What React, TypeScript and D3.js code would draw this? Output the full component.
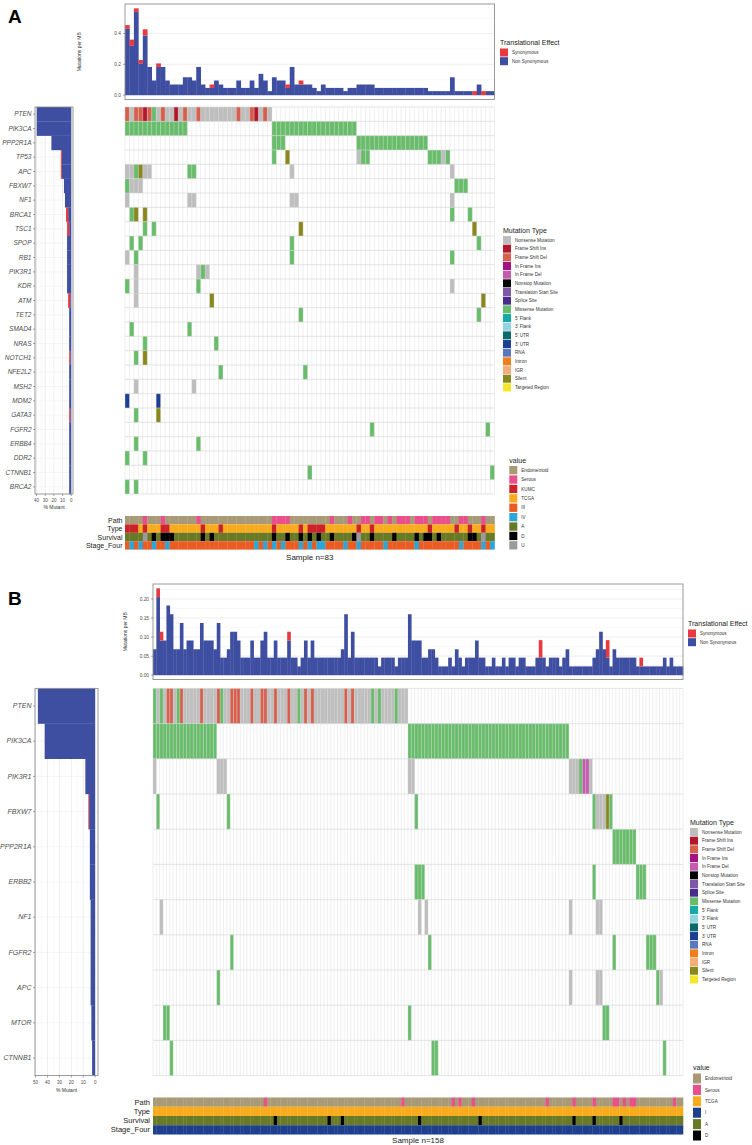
import React from "react";
import * as d3 from "d3";

const FONT = "'Liberation Sans', Arial, Helvetica, sans-serif";

// ---------- shared legends ----------
const mutationTypeLabels = ["Nonsense Mutation", "Frame Shift Ins", "Frame Shift Del", "In Frame Ins", "In Frame Del", "Nonstop Mutation", "Translation Start Site", "Splice Site", "Missense Mutation", "5' Flank", "3' Flank", "5' UTR", "3' UTR", "RNA", "Intron", "IGR", "Silent", "Targeted Region"];
const mutationTypeCodes = ["N", "FSI", "FSD", "IFI", "IFD", "NS", "TSS", "SS", "M", "F5", "F3", "U5", "U3", "RNA", "INT", "IGR", "S", "TR"];
const mutationTypeColors = ["#bebebe", "#b2182b", "#d6604d", "#a5127f", "#c55bae", "#000000", "#7e57a6", "#4a2c8c", "#68bd6b", "#16a9a9", "#93d3df", "#0c6a6b", "#1c3f94", "#5a78c0", "#f07e1b", "#f2ad78", "#88881e", "#f5e62c"];
const translationalLabels = ["Synonymous", "Non Synonymous"];
const translationalColors = ["#e8393f", "#3e4ea1"];
const clinicalColors: Record<string, string> = {
  Endometrioid: "#a99a77", Serous: "#e9508b", KUMC: "#cc2229", TCGA: "#f8ab1c",
  III: "#eb5c25", IV: "#2ba6d7", I: "#1d3f8d", A: "#687a26", D: "#000000", U: "#9b9b9b",
};
const trackNames = ["Path", "Type", "Survival", "Stage_Four"];

// ---------- Panel A data ----------
const samplesA = 83;
const genesA = ["PTEN", "PIK3CA", "PPP2R1A", "TP53", "APC", "FBXW7", "NF1", "BRCA1", "TSC1", "SPOP", "RB1", "PIK3R1", "KDR", "ATM", "TET2", "SMAD4", "NRAS", "NOTCH1", "NFE2L2", "MSH2", "MDM2", "GATA3", "FGFR2", "ERBB4", "DDR2", "CTNNB1", "BRCA2"];
const cellsA = [
  "PTEN|0:FSD 1:N 2:FSD 3:FSD 4:FSI 5:FSD 6:M 7:N 8:FSD 9-10:N 11:FSI 12:N 13:FSD 14-15:N 16:FSD 17-24:N 25:FSD 26-27:N 28:FSD 29:FSI 30:N 31:FSD 32:N",
  "PIK3CA|0-13:M 33-51:M",
  "PPP2R1A|33-35:M 52-67:M",
  "TP53|33:M 36:S 52:N 53-54:M 68-70:M 71:N 72:M",
  "APC|0-1:N 2:M 3:S 4-5:N 14-15:M 37:N 73:N",
  "FBXW7|0:M 1-3:N 74-76:M",
  "NF1|0:N 14-15:N 37-38:N 73:N",
  "BRCA1|1:M 2:S 4:S 73:M 77:M",
  "TSC1|4:M 6:M 39:S 78:S",
  "SPOP|1:M 3:M 37:M 79:M",
  "RB1|0:N 2:M 37:M 73:M",
  "PIK3R1|2:N 16:N 17:M 18:N",
  "KDR|0:M 2:N 16:M 73:N",
  "ATM|2:N 19:S 80:S",
  "TET2|39:M 79:M",
  "SMAD4|1:M 14:M",
  "NRAS|4:M 20:M",
  "NOTCH1|2:M 4:S",
  "NFE2L2|21:M 40:M",
  "MSH2|2:N 15:N",
  "MDM2|0:U3 7:U3",
  "GATA3|2:M 7:S",
  "FGFR2|55:M 81:M",
  "ERBB4|2:M 16:M",
  "DDR2|0:M 4:M",
  "CTNNB1|41:M 82:M",
  "BRCA2|0:M 2:M",
];
const tmbNonSynA = [
  0.43, 0.32, 0.54, 0.206, 0.387, 0.183, 0.095, 0.183, 0.183, 0.095,
  0.069, 0.069, 0.069, 0.116, 0.116, 0.095, 0.183, 0.069, 0.047, 0.047,
  0.095, 0.069, 0.047, 0.047, 0.047, 0.095, 0.047, 0.047, 0.095, 0.047,
  0.138, 0.095, 0.026, 0.116, 0.095, 0.095, 0.047, 0.183, 0.069, 0.069,
  0.069, 0.069, 0.047, 0.026, 0.069, 0.047, 0.047, 0.047, 0.047, 0.026,
  0.047, 0.047, 0.069, 0.069, 0.069, 0.069, 0.047, 0.047, 0.047, 0.047,
  0.047, 0.047, 0.047, 0.047, 0.047, 0.047, 0.047, 0.047, 0.026, 0.026,
  0.026, 0.026, 0.026, 0.116, 0.026, 0.026, 0.026, 0.026, 0, 0.069,
  0, 0.026, 0.026,
];
const tmbSynIdxA = [0, 1, 2, 3, 4, 7, 19, 36, 39, 78, 80];
const tmbSynValA = [0.024, 0.04, 0.023, 0.022, 0.04, 0.023, 0.022, 0.022, 0.026, 0.026, 0.026];
const pathSerousA = [4, 8, 16, 33, 34, 35, 36, 46, 50, 53, 54, 56, 57, 59, 61, 62, 63, 65, 66, 67, 69, 70, 71, 72, 75, 76, 80];
const typeKumcA = [0, 1, 2, 4, 8, 9, 17, 21, 33, 39, 41, 42, 43, 44, 52, 55, 68, 74, 77, 80];
const survDeadA = [6, 8, 9, 10, 17, 19, 33, 36, 39, 41, 43, 46, 51, 55, 60, 65, 67, 68, 70, 77, 78];
const survUnknownA = [4, 52, 80];
const stageFourA = [1, 3, 6, 9, 29, 31, 33, 35, 39, 41, 43, 44, 49, 52, 58, 65, 75, 80, 82];
const valueLegendA = ["Endometrioid", "Serous", "KUMC", "TCGA", "III", "IV", "A", "D", "U"];
const yTicksA = [0, 0.2, 0.4];
const pctTicksA = [40, 30, 20, 10, 0];

// ---------- Panel B data ----------
const samplesB = 158;
const genesB = ["PTEN", "PIK3CA", "PIK3R1", "FBXW7", "PPP2R1A", "ERBB2", "NF1", "FGFR2", "APC", "MTOR", "CTNNB1"];
const cellsB = [
  "PTEN|0:M 1:N 2:M 3:N 4-5:FSD 6:N 7:M 8:FSD 9-13:N 14:FSD 15-18:N 19:FSD 20:M 21-22:N 23-25:FSD 26-28:N 29:FSD 30-31:N 32-33:FSD 34-35:N 36:FSD 37-39:N 40:FSD 41-42:N 43:M 44:N 45:FSD 46:N 47:FSD 48-56:N 57:FSD 58:N 59:FSD 60-64:N 65:M 66:N 67:M 68-71:N 72:M 73-75:N",
  "PIK3CA|0-18:M 76-123:M",
  "PIK3R1|0:N 19-21:N 76-77:N 124-126:N 127:M 128-129:IFD 130:N",
  "FBXW7|1:M 22:M 78:M 131:M 132-134:N 135:S 136:M",
  "PPP2R1A|137-143:M",
  "ERBB2|78-80:M 131:M 144-146:M",
  "NF1|2:N 79:N 81:N 124:N 132-133:N",
  "FGFR2|23:M 82:M 137:M 147-149:M",
  "APC|19:M 124:N 132-133:N 150:M 151:N",
  "MTOR|3-4:M 76:M 134-135:M",
  "CTNNB1|5:M 83-84:M 152:M",
];
const tmbNonSynB = [
  0.068, 0.205, 0.091, 0.091, 0.183, 0.160, 0.068, 0.068, 0.137, 0.068,
  0.091, 0.091, 0.068, 0.068, 0.137, 0.091, 0.091, 0.091, 0.068, 0.137,
  0.046, 0.046, 0.068, 0.114, 0.114, 0.091, 0.046, 0.046, 0.046, 0.091,
  0.046, 0.046, 0.091, 0.114, 0.046, 0.046, 0.091, 0.046, 0.046, 0.046,
  0.091, 0.046, 0.046, 0.023, 0.046, 0.091, 0.046, 0.091, 0.046, 0.046,
  0.046, 0.046, 0.046, 0.046, 0.046, 0.046, 0.068, 0.160, 0.046, 0.114,
  0.046, 0.046, 0.046, 0.046, 0.046, 0.046, 0.046, 0.023, 0.046, 0.046,
  0.046, 0.046, 0.023, 0.046, 0.046, 0.046, 0.160, 0.091, 0.091, 0.091,
  0.046, 0.046, 0.068, 0.068, 0.046, 0.023, 0.023, 0.023, 0.046, 0.023,
  0.068, 0.046, 0.023, 0.046, 0.046, 0.046, 0.091, 0.046, 0.046, 0.023,
  0.023, 0.046, 0.023, 0.023, 0.046, 0.023, 0.046, 0.046, 0.023, 0.046,
  0.046, 0.023, 0.023, 0.023, 0.046, 0.046, 0.046, 0.023, 0.046, 0.046,
  0.046, 0.023, 0.046, 0.068, 0.023, 0.023, 0.023, 0.023, 0.023, 0.023,
  0.023, 0.046, 0.068, 0.114, 0.068, 0.046, 0.023, 0.068, 0.046, 0.046,
  0.046, 0.046, 0.046, 0.046, 0.023, 0.023, 0.023, 0.023, 0.023, 0.023,
  0.023, 0.023, 0.046, 0.023, 0.046, 0.023, 0.023, 0.023,
];
const tmbSynIdxB = [1, 2, 40, 115, 135, 145];
const tmbSynValB = [0.023, 0.023, 0.023, 0.046, 0.046, 0.023];
const pathSerousB = [33, 74, 89, 91, 95, 117, 125, 131, 137, 138, 140, 142, 143, 155];
const survDeadB = [36, 52, 56, 79, 97, 125, 131, 139];
const valueLegendB = ["Endometrioid", "Serous", "TCGA", "I", "A", "D"];
const yTicksB = [0, 0.05, 0.1, 0.15, 0.2];
const pctTicksB = [50, 40, 30, 20, 10, 0];

// ---------- helpers ----------
type Cell = { gene: string; col: number; code: string };
function parseCells(rows: string[]): Cell[] {
  const out: Cell[] = [];
  rows.forEach((r) => {
    const [gene, spec] = r.split("|");
    spec.trim().split(/\s+/).forEach((tok) => {
      const [range, code] = tok.split(":");
      const parts = range.split("-").map(Number);
      const a = parts[0];
      const b = parts.length > 1 ? parts[1] : parts[0];
      for (let c = a; c <= b; c++) out.push({ gene, col: c, code });
    });
  });
  return out;
}

const dataA = {
  n: samplesA, genes: genesA, cells: cellsA, nonSyn: tmbNonSynA, synIdx: tmbSynIdxA, synVal: tmbSynValA,
  yTicks: yTicksA, pctTicks: pctTicksA, valueLegend: valueLegendA,
  tracks: [
    d3.range(samplesA).map((i) => (pathSerousA.includes(i) ? "Serous" : "Endometrioid")),
    d3.range(samplesA).map((i) => (typeKumcA.includes(i) ? "KUMC" : "TCGA")),
    d3.range(samplesA).map((i) => (survDeadA.includes(i) ? "D" : survUnknownA.includes(i) ? "U" : "A")),
    d3.range(samplesA).map((i) => (stageFourA.includes(i) ? "IV" : "III")),
  ],
};
const dataB = {
  n: samplesB, genes: genesB, cells: cellsB, nonSyn: tmbNonSynB, synIdx: tmbSynIdxB, synVal: tmbSynValB,
  yTicks: yTicksB, pctTicks: pctTicksB, valueLegend: valueLegendB,
  tracks: [
    d3.range(samplesB).map((i) => (pathSerousB.includes(i) ? "Serous" : "Endometrioid")),
    d3.range(samplesB).map(() => "TCGA"),
    d3.range(samplesB).map((i) => (survDeadB.includes(i) ? "D" : "A")),
    d3.range(samplesB).map(() => "I"),
  ],
};

const layoutA = {
  label: "A", labelX: 8, labelY: 23,
  tx0: 125, tx1: 494.5, ty0: 4, ty1: 99.5, yTitleX: 81, yTickX: 121, fmt: ".1f",
  gx0: 125, gx1: 494.5, gy0: 107, gy1: 494,
  lx0: 35, lx1: 73, geneFont: 6.5, pctLabelY: 502, pctTitleY: 509,
  cy0: 516, cy1: 549.6, clinLabelX: 122.5, clinFont: 7, sampleY: 560,
  teX: 500, teY: 45, mtX: 503, mtY: 232.5, valX: 509.3, valY: 462.5, valPitch: 9.4, valKeyH: 8.3,
};
const layoutB = {
  label: "B", labelX: 8, labelY: 605,
  tx0: 153, tx1: 683, ty0: 584, ty1: 679.5, yTitleX: 127, yTickX: 149, fmt: ".2f",
  gx0: 153, gx1: 683, gy0: 688.4, gy1: 1075.6,
  lx0: 35, lx1: 98, geneFont: 7, pctLabelY: 1084, pctTitleY: 1092,
  cy0: 1097.5, cy1: 1134.5, clinLabelX: 150, clinFont: 7.5, sampleY: 1143,
  teX: 688, teY: 626, mtX: 690, mtY: 824.5, valX: 693, valY: 1070, valPitch: 11.4, valKeyH: 10,
};

function Legend({ x, y, title, labels, colors, pitch = 8.67, keyH = 8, keyW = 8, labelGap = 4 }: any) {
  return (
    <g>
      <text x={x} y={y} fontSize={7} fill="#1a1a1a">{title}</text>
      {labels.map((l: string, i: number) => {
        const top = y + 3.5 + i * pitch;
        return (
          <g key={l}>
            <rect x={x} y={top} width={keyW} height={keyH} fill={colors[i]} />
            <text x={x + keyW + labelGap} y={top + keyH / 2 + 1.6} fontSize={4.6} fill="#333">{l}</text>
          </g>
        );
      })}
    </g>
  );
}

function Panel({ d, L }: any) {
  const n: number = d.n;
  const x = d3.scaleBand<number>().domain(d3.range(n)).range([L.gx0, L.gx1]);
  const bw = x.bandwidth();
  const nG = d.genes.length;
  const rowH = (L.gy1 - L.gy0) / nG;
  const cells = parseCells(d.cells);
  const gIdx = new Map<string, number>(d.genes.map((g: string, i: number) => [g, i]));
  const colorOf = (code: string) => mutationTypeColors[mutationTypeCodes.indexOf(code)];

  // top bar chart
  const syn: number[] = new Array(n).fill(0);
  d.synIdx.forEach((c: number, k: number) => { syn[c] = d.synVal[k]; });
  const totals = d.nonSyn.map((v: number, i: number) => v + syn[i]);
  const tmax = d3.max(totals) as number;
  const yT = d3.scaleLinear().domain([-0.05 * tmax, 1.05 * tmax]).range([L.ty1, L.ty0]);
  const tickStep = d.yTicks[1] - d.yTicks[0];
  const minorT = d3.range(tickStep / 2, 1.05 * tmax, tickStep);
  const fmt = d3.format(L.fmt);

  // left bar chart (percent of samples mutated)
  const pct = d.genes.map((g: string) => {
    const gc = cells.filter((c) => c.gene === g);
    const s = new Set(gc.filter((c) => c.code === "S").map((c) => c.col)).size;
    const ns = new Set(gc.filter((c) => c.code !== "S").map((c) => c.col)).size;
    return { ns: (ns / n) * 100, s: (s / n) * 100 };
  });
  const pmax = d3.max(pct, (p: any) => p.ns + p.s) as number;
  const xL = d3.scaleLinear().domain([-0.05 * pmax, 1.05 * pmax]).range([L.lx1, L.lx0]);
  const pctStep = d.pctTicks[0] - d.pctTicks[1];
  const minorL = d3.range(pctStep / 2, 1.05 * pmax, pctStep);

  const trackH = (L.cy1 - L.cy0) / 4;

  return (
    <g fontFamily={FONT}>
      <text x={L.labelX} y={L.labelY} fontSize={19} fontWeight="bold" fill="#000">{L.label}</text>

      {/* ---- top: mutation burden ---- */}
      <rect x={L.tx0} y={L.ty0} width={L.tx1 - L.tx0} height={L.ty1 - L.ty0} fill="#fff" />
      {minorT.map((v: number) => (
        <line key={"mt" + v} x1={L.tx0} x2={L.tx1} y1={yT(v)} y2={yT(v)} stroke="#f2f2f2" strokeWidth={0.5} />
      ))}
      {d.yTicks.map((v: number) => (
        <line key={"gt" + v} x1={L.tx0} x2={L.tx1} y1={yT(v)} y2={yT(v)} stroke="#e3e3e3" strokeWidth={0.6} />
      ))}
      {d.nonSyn.map((v: number, i: number) => (
        v > 0 ? <rect key={"nb" + i} x={x(i)} width={bw + 0.3} y={yT(v)} height={yT(0) - yT(v)} fill={translationalColors[1]} /> : null
      ))}
      {syn.map((v: number, i: number) => (
        v > 0 ? <rect key={"sb" + i} x={x(i)} width={bw + 0.3} y={yT(d.nonSyn[i] + v)} height={yT(d.nonSyn[i]) - yT(d.nonSyn[i] + v)} fill={translationalColors[0]} /> : null
      ))}
      <rect x={L.tx0} y={L.ty0} width={L.tx1 - L.tx0} height={L.ty1 - L.ty0} fill="none" stroke="#8f8f8f" strokeWidth={0.9} />
      {d.yTicks.map((v: number) => (
        <g key={"yt" + v}>
          <line x1={L.tx0 - 2} x2={L.tx0} y1={yT(v)} y2={yT(v)} stroke="#555" strokeWidth={0.5} />
          <text x={L.yTickX} y={yT(v) + 1.7} fontSize={4.8} textAnchor="end" fill="#4d4d4d">{fmt(v)}</text>
        </g>
      ))}
      <text transform={`translate(${L.yTitleX},${(L.ty0 + L.ty1) / 2}) rotate(-90)`} fontSize={5} textAnchor="middle" fill="#333">Mutations per MB</text>

      {/* ---- left: % mutant ---- */}
      <rect x={L.lx0} y={L.gy0} width={L.lx1 - L.lx0} height={L.gy1 - L.gy0} fill="#fff" />
      {minorL.map((v: number) => (
        <line key={"ml" + v} x1={xL(v)} x2={xL(v)} y1={L.gy0} y2={L.gy1} stroke="#f3f3f3" strokeWidth={0.5} />
      ))}
      {d.pctTicks.map((v: number) => (
        <line key={"gl" + v} x1={xL(v)} x2={xL(v)} y1={L.gy0} y2={L.gy1} stroke="#e3e3e3" strokeWidth={0.6} />
      ))}
      {d.genes.map((g: string, i: number) => (
        <line key={"hl" + g} x1={L.lx0} x2={L.lx1} y1={L.gy0 + (i + 0.5) * rowH} y2={L.gy0 + (i + 0.5) * rowH} stroke="#ececec" strokeWidth={0.5} />
      ))}
      {pct.map((p: any, i: number) => (
        <g key={"lb" + i}>
          {p.ns > 0 && <rect x={xL(p.ns)} y={L.gy0 + i * rowH} width={xL(0) - xL(p.ns)} height={rowH + 0.2} fill={translationalColors[1]} />}
          {p.s > 0 && <rect x={xL(p.ns + p.s)} y={L.gy0 + i * rowH} width={xL(p.ns) - xL(p.ns + p.s)} height={rowH + 0.2} fill={translationalColors[0]} />}
        </g>
      ))}
      <rect x={L.lx0} y={L.gy0} width={L.lx1 - L.lx0} height={L.gy1 - L.gy0} fill="none" stroke="#8f8f8f" strokeWidth={0.9} />
      {d.genes.map((g: string, i: number) => {
        const yc = L.gy0 + (i + 0.5) * rowH;
        return (
          <g key={"gn" + g}>
            <line x1={L.lx0 - 2} x2={L.lx0} y1={yc} y2={yc} stroke="#555" strokeWidth={0.5} />
            <text x={L.lx0 - 3.5} y={yc + 2.2} fontSize={L.geneFont} fontStyle="italic" textAnchor="end" fill="#4d4d4d">{g}</text>
          </g>
        );
      })}
      {d.pctTicks.map((v: number) => (
        <g key={"pt" + v}>
          <line x1={xL(v)} x2={xL(v)} y1={L.gy1} y2={L.gy1 + 2} stroke="#555" strokeWidth={0.5} />
          <text x={xL(v)} y={L.pctLabelY} fontSize={4.5} textAnchor="middle" fill="#4d4d4d">{v}</text>
        </g>
      ))}
      <text x={(L.lx0 + L.lx1) / 2} y={L.pctTitleY} fontSize={5} textAnchor="middle" fill="#333">% Mutant</text>

      {/* ---- main waterfall grid ---- */}
      <rect x={L.gx0} y={L.gy0} width={L.gx1 - L.gx0} height={L.gy1 - L.gy0} fill="#fff" />
      {cells.map((c, k) => (
        <rect key={"c" + k} x={x(c.col)} y={L.gy0 + (gIdx.get(c.gene) as number) * rowH} width={bw} height={rowH} fill={colorOf(c.code)} />
      ))}
      {d3.range(n + 1).map((i) => {
        const xx = L.gx0 + i * bw;
        return <line key={"vl" + i} x1={xx} x2={xx} y1={L.gy0} y2={L.gy1} stroke="#d4d4d4" strokeOpacity={0.75} strokeWidth={0.5} />;
      })}
      {d3.range(nG + 1).map((i) => {
        const yy = L.gy0 + i * rowH;
        return <line key={"hg" + i} x1={L.gx0} x2={L.gx1} y1={yy} y2={yy} stroke="#d4d4d4" strokeWidth={0.6} />;
      })}

      {/* ---- clinical tracks ---- */}
      {d.tracks.map((tr: string[], t: number) => (
        <g key={"tr" + t}>
          {tr.map((v: string, i: number) => (
            <rect key={i} x={x(i)} y={L.cy0 + t * trackH} width={bw + 0.3} height={trackH} fill={clinicalColors[v]} />
          ))}
          <text x={L.clinLabelX} y={L.cy0 + (t + 0.5) * trackH + 2.5} fontSize={L.clinFont} textAnchor="end" fill="#222">{trackNames[t]}</text>
        </g>
      ))}
      <text x={(L.gx0 + L.gx1) / 2} y={L.sampleY} fontSize={8} textAnchor="middle" fill="#222">{`Sample n=${n}`}</text>

      {/* ---- legends ---- */}
      <Legend x={L.teX} y={L.teY} title="Translational Effect" labels={translationalLabels} colors={translationalColors} pitch={8.7} />
      <Legend x={L.mtX} y={L.mtY} title="Mutation Type" labels={mutationTypeLabels} colors={mutationTypeColors} pitch={8.67} />
      <Legend x={L.valX} y={L.valY} title="value" labels={d.valueLegend} colors={d.valueLegend.map((v: string) => clinicalColors[v])} pitch={L.valPitch} keyH={L.valKeyH} />
    </g>
  );
}

export default function App() {
  return (
    <div style={{ position: "absolute", left: 0, top: 0, width: 752, height: 1145, background: "#fff" }}>
      <svg width={752} height={1145} style={{ display: "block" }}>
        <rect x={0} y={0} width={752} height={1145} fill="#fff" />
        <Panel d={dataA} L={layoutA} />
        <Panel d={dataB} L={layoutB} />
      </svg>
    </div>
  );
}
